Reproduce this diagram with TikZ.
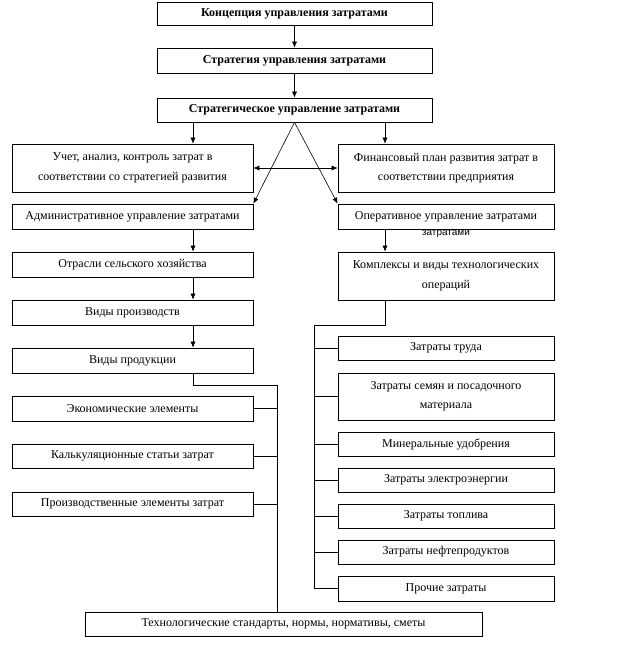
\documentclass[tikz,border=0pt]{standalone}
\usepackage{fontspec}
\setmainfont{Liberation Serif}
\newfontfamily\strayfont{Liberation Sans}
\usetikzlibrary{arrows.meta}
\begin{document}
\begin{tikzpicture}[x=1pt,y=-1pt,
  box/.style={draw, line width=0.7pt, inner sep=0pt, align=center,
    font=\fontsize{12}{19.5}\selectfont},
  bbox/.style={box, font=\fontsize{12}{14}\selectfont\bfseries},
  arr/.style={line width=0.6pt, -{Latex[length=6pt,width=5pt]}},
  dbl/.style={line width=0.6pt, {Latex[length=6pt,width=5pt]}-{Latex[length=6pt,width=5pt]}},
  ln/.style={line width=0.7pt}]
\useasboundingbox (0,0) rectangle (625,649);
% top
\node[bbox, minimum width=275, minimum height=23] (b1) at (294.5,14) {Концепция управления затратами};
\node[bbox, minimum width=275, minimum height=25] (b2) at (294.5,60.5) {Стратегия управления затратами};
\node[bbox, minimum width=275, minimum height=24] (b3) at (294.5,110) {Стратегическое управление затратами};
% second level
\node[box, minimum width=241, minimum height=48] (b4) at (132.5,168) {Учет, анализ, контроль затрат в\\соответствии со стратегией развития};
\node[box, minimum width=216, minimum height=48] (b5) at (446,168) {Финансовый план развития затрат в\\соответствии предприятия};
\node[box, minimum width=241, minimum height=25] (b6) at (132.5,216.5) {Административное управление затратами};
\node[box, minimum width=216, minimum height=25] (b7) at (446,216.5) {Оперативное управление затратами};
\node[font=\strayfont\fontsize{10}{11}\selectfont, inner sep=0pt] (stray) at (446,233.5) {затратами};
\node[box, minimum width=241, minimum height=25] (b8) at (132.5,264.5) {Отрасли сельского хозяйства};
\node[box, minimum width=216, minimum height=48] (b9) at (446,276) {Комплексы и виды технологических\\операций};
\node[box, minimum width=241, minimum height=25] (b10) at (132.5,312.5) {Виды производств};
\node[box, minimum width=241, minimum height=25] (b11) at (132.5,360.5) {Виды продукции};
% left column
\node[box, minimum width=241, minimum height=25] (l1) at (132.5,408.5) {Экономические элементы};
\node[box, minimum width=241, minimum height=24] (l2) at (132.5,456) {Калькуляционные статьи затрат};
\node[box, minimum width=241, minimum height=24] (l3) at (132.5,504) {Производственные элементы затрат};
% right column
\node[box, minimum width=216, minimum height=24] (r1) at (446,348) {Затраты труда};
\node[box, minimum width=216, minimum height=47] (r2) at (446,396.5) {Затраты семян и посадочного\\материала};
\node[box, minimum width=216, minimum height=24] (r3) at (446,444.5) {Минеральные удобрения};
\node[box, minimum width=216, minimum height=24] (r4) at (446,480) {Затраты электроэнергии};
\node[box, minimum width=216, minimum height=24] (r5) at (446,516) {Затраты топлива};
\node[box, minimum width=216, minimum height=24] (r6) at (446,552) {Затраты нефтепродуктов};
\node[box, minimum width=216, minimum height=25] (r7) at (446,588.5) {Прочие затраты};
% bottom
\node[box, minimum width=397, minimum height=24] (bot) at (283.5,624) {Технологические стандарты, нормы, нормативы, сметы};
% helper coordinates
\coordinate (cL) at (193,0);
\coordinate (cR) at (385,0);
\coordinate (rb) at (314,325);
\coordinate (lb) at (277,385);
% connectors
\draw[arr] (b1.south) -- (b2.north);
\draw[arr] (b2.south) -- (b3.north);
\draw[arr] (b3.south -| cL) -- (b4.north -| cL);
\draw[arr] (b3.south -| cR) -- (b5.north -| cR);
\draw[dbl] (b4.east) -- (b5.west);
\draw[arr] (b3.south) -- (b6.north east);
\draw[arr] (b3.south) -- (b7.north west);
\draw[arr] (b6.south -| cL) -- (b8.north -| cL);
\draw[arr] (b8.south -| cL) -- (b10.north -| cL);
\draw[arr] (b10.south -| cL) -- (b11.north -| cL);
\draw[arr] (b7.south -| cR) -- (b9.north -| cR);
% right bus
\draw[ln] (b9.south -| cR) |- (rb) -- (rb |- r7.west) -- (r7.west);
\foreach \n in {r1,r2,r3,r4,r5,r6} \draw[ln] (rb |- \n.west) -- (\n.west);
% left bus
\draw[ln] (b11.south -| cL) |- (lb) -- (lb |- bot.north);
\foreach \n in {l1,l2,l3} \draw[ln] (\n.east) -- (\n.east -| lb);
\end{tikzpicture}
\end{document}
